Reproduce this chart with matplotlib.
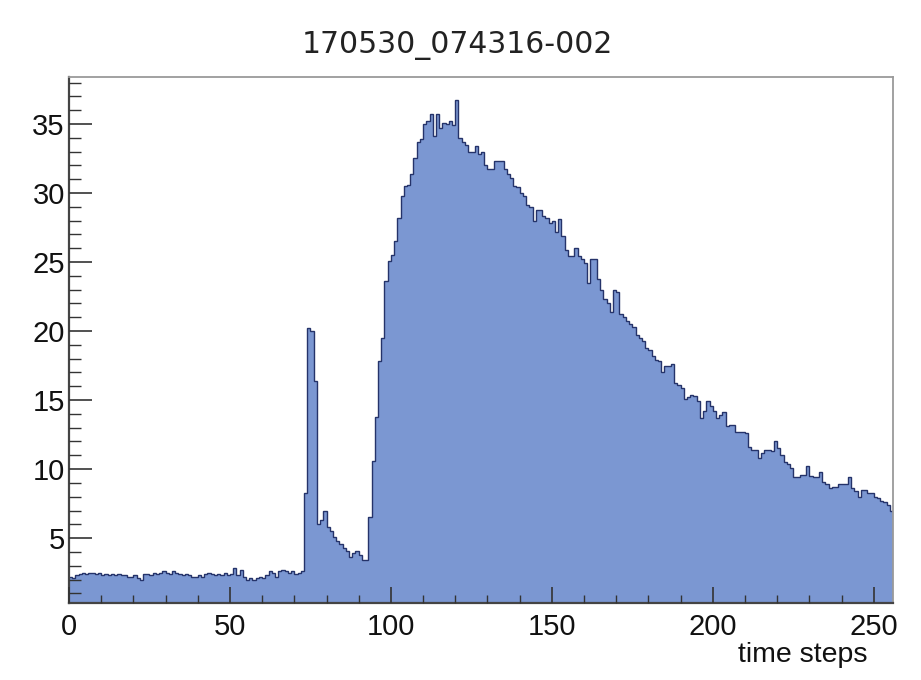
import matplotlib
matplotlib.use("Agg")
import matplotlib.pyplot as plt
from matplotlib.ticker import MultipleLocator
import numpy as np

title = "170530_074316-002"
x_label = "time steps"
n_bins = 256
x_range = (0, 256)

baseline = [2.2, 2.1, 2.3, 2.4, 2.5, 2.4, 2.5, 2.5, 2.4, 2.5, 2.3,
            2.4, 2.3, 2.4, 2.3, 2.4, 2.3, 2.3,
            2.2, 2.2, 2.3, 2.1, 2.0,
            2.4, 2.4, 2.3, 2.5, 2.4,
            2.5, 2.6, 2.5, 2.4, 2.6, 2.5,
            2.4, 2.3, 2.4, 2.3, 2.2,
            2.2, 2.3, 2.2, 2.4, 2.5,
            2.4, 2.3, 2.4, 2.3, 2.5, 2.3, 2.4,
            2.8, 2.3, 2.7, 2.2, 2.0,
            2.1, 2.0, 2.1, 2.2, 2.1,
            2.3, 2.6, 2.5, 2.2, 2.6, 2.7,
            2.6, 2.5, 2.6, 2.4, 2.5, 2.6]
spike = [8.3, 20.2, 20.0, 16.4, 6.0, 6.3, 7.0, 5.8, 5.5, 5.1, 4.8, 4.6,
         4.3, 4.1, 3.6, 3.9, 4.1, 3.8, 3.4, 3.4]
rise = [6.5, 10.6, 13.8, 17.8, 19.5, 23.6, 25.1, 25.5, 26.5, 28.2]
peak = [29.8, 30.5, 30.6, 31.4, 32.5, 33.7, 33.9, 35.0, 35.2, 35.7,
        34.1, 35.7, 34.7, 35.1, 35.0, 35.2, 34.9, 36.7, 34.0, 33.7,
        33.5, 33.0, 33.0, 33.4, 32.8, 33.0, 32.0, 31.7, 31.7, 32.3,
        32.3, 32.3, 31.7, 31.4, 31.1, 30.5, 30.4, 30.0, 29.8, 29.1,
        29.0, 28.0, 28.8, 28.8, 28.3, 28.2, 27.8]
decay1 = [28.0, 27.2, 28.1, 26.9, 25.9, 25.4, 25.4, 26.0, 25.4, 25.2,
          24.9, 23.5, 25.2, 25.2, 23.8, 23.0, 22.3, 22.0, 21.4, 23.0,
          22.8, 21.2, 21.0, 20.7, 20.5, 20.3, 19.7, 19.5, 19.3, 18.8,
          18.6, 18.2, 17.9, 17.8, 17.0, 17.5, 17.5, 17.6, 16.2, 16.1,
          15.9, 15.1, 15.2, 15.4, 15.3, 14.9, 13.7, 14.2, 14.9, 14.6,
          14.2, 13.7, 13.9, 14.1, 13.1]
decay2 = [13.2, 13.2, 12.7, 12.7, 12.7, 12.6, 11.6, 11.4, 11.4, 10.8,
          11.2, 11.4, 11.4, 11.3, 12.0, 11.5, 11.0, 10.5, 10.4, 10.1,
          9.4, 9.4, 9.6, 9.6, 10.2, 9.5, 9.4, 9.4, 9.8, 9.1,
          8.9, 8.6, 8.7, 8.7, 8.9, 8.9, 8.9, 9.4, 8.6, 8.4,
          8.0, 8.5, 8.5, 8.3, 8.3, 8.0, 7.9, 7.7, 7.6, 7.4, 7.0]

counts = np.array(baseline + spike + rise + peak + decay1 + decay2)
edges = np.linspace(x_range[0], x_range[1], n_bins + 1)

W, H = 921, 680
fig = plt.figure(figsize=(W / 100, H / 100), dpi=100)
fig.patch.set_facecolor("white")
ax = fig.add_axes([69 / W, 1 - 603 / H, (893 - 69) / W, (603 - 77) / H])

fill_col = "#7b97d2"
edge_col = "#25336a"
ax.stairs(counts, edges, baseline=0, fill=True, color=fill_col, zorder=1)
ax.stairs(counts, edges, baseline=None, color=edge_col, lw=1.0, zorder=1.5)

ax.set_xlim(*x_range)
ax.set_ylim(0.3, 38.4)

ax.xaxis.set_major_locator(MultipleLocator(50))
ax.xaxis.set_minor_locator(MultipleLocator(10))
ax.yaxis.set_major_locator(MultipleLocator(5))
ax.yaxis.set_minor_locator(MultipleLocator(1))

tick_col = "#333333"
ax.tick_params(axis="x", which="major", direction="in", length=11.5, width=1.2,
               colors=tick_col, labelcolor="#111111", pad=7,
               labelsize=21, top=False)
ax.tick_params(axis="x", which="minor", direction="in", length=5.8, width=1.0,
               colors=tick_col, top=False)
ax.tick_params(axis="y", which="major", direction="in", length=16.5, width=1.2,
               colors=tick_col, labelcolor="#111111", pad=3,
               labelsize=21, right=False)
ax.tick_params(axis="y", which="minor", direction="in", length=8.6, width=1.0,
               colors=tick_col, right=False)
for lab in ax.get_xticklabels() + ax.get_yticklabels():
    lab.set_family("Liberation Sans")

for side in ("left", "bottom"):
    ax.spines[side].set_color("#444444")
    ax.spines[side].set_linewidth(1.6)
for side in ("top", "right"):
    ax.spines[side].set_color("#9a9a9a")
    ax.spines[side].set_linewidth(1.3)
ax.set_axisbelow(False)

fig.text(457 / W, 1 - 46 / H, title, ha="center", va="center",
         fontsize=21.5, family="DejaVu Sans", color="#222222")
fig.text(867 / W, 1 - 655 / H, x_label, ha="right", va="center",
         fontsize=20.5, family="Liberation Sans", color="#111111")

fig.savefig("out.png", dpi=100, facecolor="white")
